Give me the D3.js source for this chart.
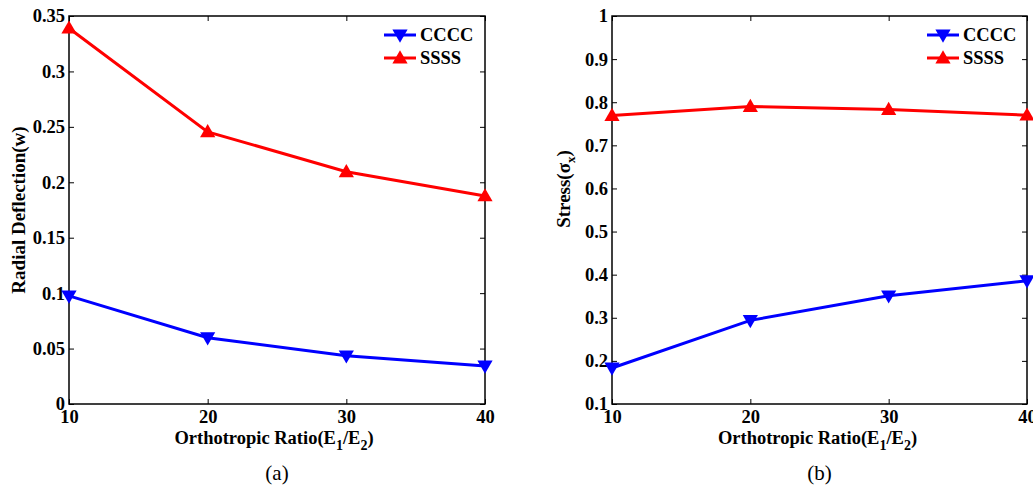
<!DOCTYPE html>
<html><head><meta charset="utf-8">
<script src="https://cdn.jsdelivr.net/npm/d3@7"></script>
<style>body{margin:0;background:#fff}svg{display:block}svg text{font-family:"Liberation Serif","Times New Roman",serif !important}</style>
</head><body><svg id="c" width="1033" height="489" font-family="Liberation Serif"></svg>
<script>
const ratios = [10, 20, 30, 40];
const deflCCCC = [0.0975, 0.0598, 0.0435, 0.0343];
const deflSSSS = [0.339, 0.2455, 0.2095, 0.1877];
const stressCCCC = [0.1835, 0.294, 0.351, 0.386];
const stressSSSS = [0.769, 0.790, 0.783, 0.770];
const xTicks = [10, 20, 30, 40];
const yTicksA = [0, 0.05, 0.1, 0.15, 0.2, 0.25, 0.3, 0.35];
const yTicksB = [0.1, 0.2, 0.3, 0.4, 0.5, 0.6, 0.7, 0.8, 0.9, 1];
const seriesNames = ["CCCC", "SSSS"];
const colors = ["#0000ff", "#ff0000"];

const svg = d3.select("#c");
const FF = "'Liberation Serif', 'Times New Roman', serif";

function panel(o) {
  const g = svg.append("g");
  const x = d3.scaleLinear().domain([10, 40]).range([o.x0, o.x1]);
  const y = d3.scaleLinear().domain(o.yDomain).range([404, 16]);
  const fmt = v => String(+v.toFixed(2));
  g.append("g").attr("transform", "translate(0,404)")
    .call(d3.axisBottom(x).tickValues(xTicks).tickSize(-5).tickPadding(6).tickFormat(d => d))
    .call(s => s.select(".domain").remove());
  g.append("g").attr("transform", "translate(0,16)")
    .call(d3.axisTop(x).tickValues(xTicks).tickSize(-5).tickFormat(""))
    .call(s => s.select(".domain").remove());
  g.append("g").attr("transform", `translate(${o.x0},0)`)
    .call(d3.axisLeft(y).tickValues(o.yTicks).tickSize(-5).tickPadding(4).tickFormat(fmt))
    .call(s => s.select(".domain").remove());
  g.append("g").attr("transform", `translate(${o.x1},0)`)
    .call(d3.axisRight(y).tickValues(o.yTicks).tickSize(-5).tickFormat(""))
    .call(s => s.select(".domain").remove());
  g.selectAll("g").attr("font-family", FF);
  g.selectAll(".tick line").attr("stroke", "#000").attr("stroke-width", 1);
  g.selectAll(".tick text").attr("fill", "#000").attr("font-size", 18.5).attr("font-weight", "bold")
    .attr("font-family", FF);
  g.append("rect").attr("x", o.x0).attr("y", 16).attr("width", o.x1 - o.x0).attr("height", 388)
    .attr("fill", "none").attr("stroke", "#000").attr("stroke-width", 1.5);

  const line = d3.line().x((d, i) => x(ratios[i])).y(d => y(d));
  o.series.forEach((vals, k) => {
    g.append("path").datum(vals).attr("d", line).attr("fill", "none")
      .attr("stroke", colors[k]).attr("stroke-width", 3);
    g.selectAll(null).data(vals).enter().append("path")
      .attr("d", d3.symbol(d3.symbolTriangle, 100))
      .attr("transform", (d, i) => `translate(${x(ratios[i])},${y(d) + (k === 0 ? -1 : 1)}) rotate(${k === 0 ? 180 : 0})`)
      .attr("fill", colors[k]);
  });

  seriesNames.forEach((n, k) => {
    const ly = 35 + k * 23;
    g.append("line").attr("x1", o.lx).attr("x2", o.lx + 32).attr("y1", ly).attr("y2", ly)
      .attr("stroke", colors[k]).attr("stroke-width", 3);
    g.append("path").attr("d", d3.symbol(d3.symbolTriangle, 100))
      .attr("transform", `translate(${o.lx + 16},${ly + (k === 0 ? -1 : 1)}) rotate(${k === 0 ? 180 : 0})`).attr("fill", colors[k]);
    g.append("text").attr("x", o.lx + 36).attr("y", ly + 6).text(n)
      .attr("font-family", FF).attr("font-size", 18.5).attr("font-weight", "bold");
  });

  const xt = g.append("text").attr("x", (o.x0 + o.x1) / 2 + o.xtOff).attr("y", 444).attr("text-anchor", "middle")
    .attr("font-family", FF).attr("font-size", 18.5).attr("font-weight", "bold");
  xt.append("tspan").text("Orthotropic Ratio(E");
  xt.append("tspan").text("1").attr("dy", 6).attr("font-size", 14);
  xt.append("tspan").text("/E").attr("dy", -6);
  xt.append("tspan").text("2").attr("dy", 6).attr("font-size", 14);
  xt.append("tspan").text(")").attr("dy", -6);

  const yt = g.append("text").attr("transform", `translate(${o.ytx},${o.yty}) rotate(-90)`)
    .attr("text-anchor", "middle").attr("font-family", FF).attr("font-size", 19).attr("font-weight", "bold");
  o.yTitle(yt);

  g.append("text").attr("x", (o.x0 + o.x1) / 2).attr("y", 480).attr("text-anchor", "middle")
    .attr("font-family", FF).attr("font-size", 21).text(o.label);
}

panel({
  x0: 69, x1: 485, yDomain: [0, 0.35], yTicks: yTicksA, series: [deflCCCC, deflSSSS],
  lx: 384, ytx: 25, yty: 210, xtOff: -3, label: "(a)",
  yTitle: t => t.text("Radial Deflection(w)")
});
panel({
  x0: 612, x1: 1027, yDomain: [0.1, 1], yTicks: yTicksB, series: [stressCCCC, stressSSSS],
  lx: 927, ytx: 570, yty: 189, xtOff: -2, label: "(b)",
  yTitle: t => {
    t.append("tspan").text("Stress(σ");
    t.append("tspan").text("x").attr("dy", 5).attr("font-size", 13);
    t.append("tspan").text(")").attr("dy", -5);
  }
});
</script></body></html>
